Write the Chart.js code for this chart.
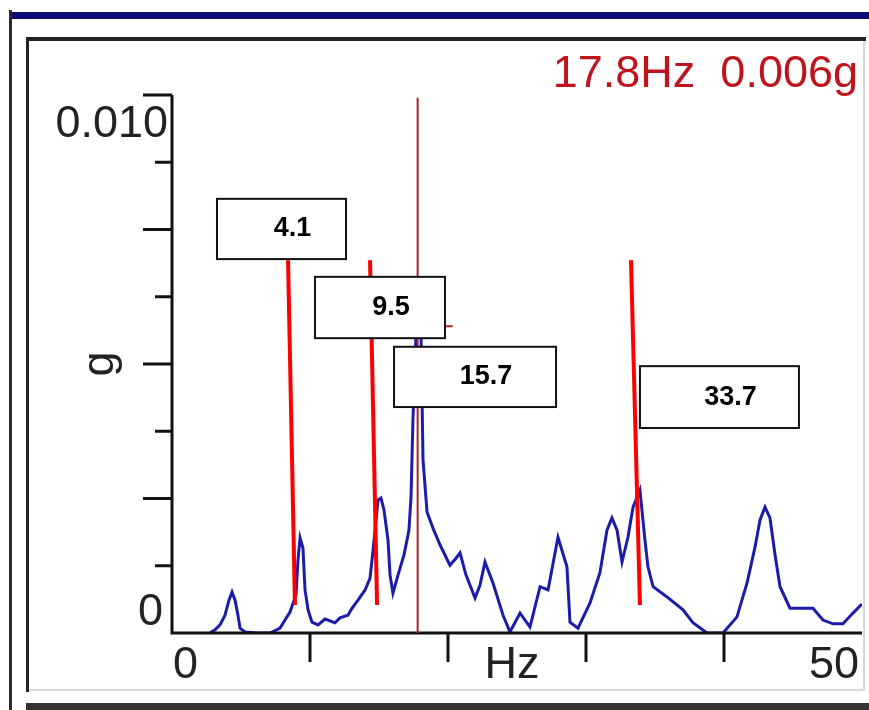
<!DOCTYPE html>
<html>
<head>
<meta charset="utf-8">
<script src="https://cdn.jsdelivr.net/npm/chart.js@4"></script>
<style>
  html, body { margin: 0; padding: 0; background: #fff; }
  #wrap { position: relative; width: 869px; height: 710px; }
</style>
</head>
<body>
<div id="wrap"><canvas id="spectrum"></canvas></div>
<script>
// spectrum data (Hz / g)
const freqHz = [2.75, 3.12, 3.48, 3.84, 4.13, 4.35, 4.57, 4.78, 4.93, 5.29, 6.23, 7.10, 7.83, 8.19, 8.55, 8.99,
  9.13, 9.28, 9.49, 9.64, 9.86, 10.14, 10.58, 11.09, 11.81, 12.17, 12.75, 13.04, 13.48, 13.99, 14.35, 14.57,
  14.93, 15.14, 15.36, 15.65, 15.80, 16.01, 16.38, 16.81, 17.17, 17.32, 17.46, 17.68, 17.90, 18.04, 18.19,
  18.48, 18.91, 19.42, 20.14, 20.58, 20.87, 21.30, 21.96, 22.32, 22.68, 23.26, 23.99, 24.49, 25.22, 25.94,
  26.67, 27.25, 27.97, 28.62, 28.84, 29.42, 30.29, 31.01, 31.52, 31.88, 32.25, 32.61, 33.04, 33.41, 33.91,
  34.27, 34.49, 34.86, 35.87, 37.03, 37.75, 38.77, 39.93, 40.94, 41.67, 42.25, 42.61, 42.97, 43.33, 43.70,
  44.06, 44.78, 46.45, 47.17, 47.90, 48.62, 49.35, 50.00];
const accelG = [0, 0.00006, 0.00015, 0.00033, 0.00061, 0.00076, 0.00061, 0.00033, 0.00009, 0.00002, 0, 0,
  0.00009, 0.00024, 0.00039, 0.00071, 0.00136, 0.00177, 0.00158, 0.00080, 0.00043, 0.00020, 0.00015, 0.00026,
  0.00019, 0.00028, 0.00033, 0.00046, 0.00061, 0.00080, 0.00102, 0.00154, 0.00247, 0.00251, 0.00229, 0.00173,
  0.00108, 0.00074, 0.00108, 0.00145, 0.00191, 0.00253, 0.00396, 0.00554, 0.00578, 0.00563, 0.00322, 0.00225,
  0.00195, 0.00164, 0.00126, 0.00139, 0.00149, 0.00108, 0.00065, 0.00089, 0.00132, 0.00093, 0.00033, 0.00002,
  0.00037, 0.00011, 0.00086, 0.00080, 0.00178, 0.00123, 0.00020, 0.00009, 0.00056, 0.00112, 0.00191, 0.00214,
  0.00191, 0.00132, 0.00178, 0.00234, 0.00266, 0.00173, 0.00123, 0.00086, 0.00067, 0.00043, 0.00019, 0, 0,
  0.00030, 0.00093, 0.00160, 0.00210, 0.00234, 0.00214, 0.00145, 0.00086, 0.00046, 0.00046, 0.00024, 0.00017,
  0.00017, 0.00037, 0.00054];

// axes
const xTickHz = [10, 20, 30, 40];
const xTickText = ['0', 'Hz', '50'];
const yTickG = [0.00125, 0.0025, 0.00375, 0.005, 0.00625, 0.0075, 0.00875, 0.010];
const yTickText = ['0', '0.010'];

// cursor readout
const cursorHz = 17.8;
const cursorG = 0.0057;
const cursorText = '17.8Hz  0.006g';

// hand-drawn peak marks: label, box (Hz from-to, g top-bottom), red line (Hz top, Hz bottom)
const markLabels = ['4.1', '9.5', '15.7', '33.7'];
const markBoxHz = [[3.26, 12.61], [10.36, 19.78], [16.09, 27.83], [33.91, 45.43]];
const markBoxG = [[0.00807, 0.00695], [0.00662, 0.00548], [0.00532, 0.00420], [0.00496, 0.00381]];
const markLineHz = [[8.41, 8.91], [14.35, 14.86], null, [33.26, 33.91]];
const markLineG = [0.00693, 0.00052];

const TXT = '"Liberation Sans", Arial, sans-serif';

// frame around the panel
const framePlugin = {
    id: 'frame',
    beforeDraw(chart) {
        const c = chart.ctx;
        c.save();
        c.fillStyle = '#fff';
        c.fillRect(0, 0, chart.width, chart.height);
        c.fillStyle = '#2a2a2a';
        c.fillRect(9, 10, 3, 700);          // outer left line
        c.fillStyle = '#0b0b78';
        c.fillRect(12, 12, 857, 7);         // navy top bar
        c.fillStyle = '#222';
        c.fillRect(26, 37, 840, 4);         // panel top
        c.fillRect(26, 37, 3, 655);         // panel left
        c.fillStyle = '#d8d8d8';
        c.fillRect(863, 41, 2, 650);        // panel right
        c.fillRect(29, 689, 836, 2);
        c.fillStyle = '#333';
        c.fillRect(26, 703, 843, 7);        // next panel
        c.restore();
    }
};

const axisPlugin = {
    id: 'axes',
    afterDatasetsDraw(chart) {
        const c = chart.ctx;
        const xs = chart.scales.x, ys = chart.scales.y;
        const a = chart.chartArea;
        c.save();
        c.strokeStyle = '#111';
        c.fillStyle = '#111';

        // axis lines
        c.lineWidth = 3;
        c.beginPath();
        c.moveTo(a.left, ys.getPixelForValue(0.010));
        c.lineTo(a.left, a.bottom);
        c.lineTo(a.right, a.bottom);
        c.stroke();

        // ticks
        c.lineWidth = 3;
        yTickG.forEach((v, i) => {
            const y = ys.getPixelForValue(v);
            const len = i % 2 === 1 ? 29 : 17;
            c.beginPath();
            c.moveTo(a.left - len, y);
            c.lineTo(a.left, y);
            c.stroke();
        });
        xTickHz.forEach(v => {
            const x = xs.getPixelForValue(v);
            c.beginPath();
            c.moveTo(x, a.bottom);
            c.lineTo(x, a.bottom + 29);
            c.stroke();
        });

        // tick labels
        c.font = '45px ' + TXT;
        c.fillStyle = '#222';
        c.textBaseline = 'alphabetic';
        c.textAlign = 'right';
        c.fillText(yTickText[0], a.left - 9, ys.getPixelForValue(0) - 8);
        c.fillText(yTickText[1], a.left - 4, ys.getPixelForValue(0.010) + 42);
        c.textAlign = 'left';
        c.fillText(xTickText[0], xs.getPixelForValue(0) + 1, a.bottom + 45);
        c.textAlign = 'center';
        c.fillText(xTickText[1], xs.getPixelForValue(25) - 5, a.bottom + 45);
        c.textAlign = 'right';
        c.fillText(xTickText[2], xs.getPixelForValue(50) - 3, a.bottom + 45);

        // y title
        c.save();
        c.translate(113, ys.getPixelForValue(0.005));
        c.rotate(-Math.PI / 2);
        c.textAlign = 'center';
        c.fillText('g', 0, 0);
        c.restore();

        // cursor
        const cx = xs.getPixelForValue(cursorHz);
        c.strokeStyle = '#b21f2a';
        c.lineWidth = 2;
        c.beginPath();
        c.moveTo(cx, ys.getPixelForValue(0.00995));
        c.lineTo(cx, a.bottom);
        c.stroke();
        c.beginPath();
        c.moveTo(cx - 8, ys.getPixelForValue(cursorG));
        c.lineTo(cx + 35, ys.getPixelForValue(cursorG));
        c.stroke();

        c.fillStyle = '#c0141c';
        c.font = '45px ' + TXT;
        c.textAlign = 'right';
        c.fillText(cursorText, 858, 87);

        // red peak lines
        c.strokeStyle = '#ff0000';
        c.lineWidth = 4;
        markLineHz.forEach(h => {
            if (!h) return;
            c.beginPath();
            c.moveTo(xs.getPixelForValue(h[0]), ys.getPixelForValue(markLineG[0]));
            c.lineTo(xs.getPixelForValue(h[1]), ys.getPixelForValue(markLineG[1]));
            c.stroke();
        });

        // label boxes
        c.font = 'bold 27px ' + TXT;
        c.textAlign = 'center';
        c.textBaseline = 'middle';
        markLabels.forEach((t, i) => {
            const x0 = xs.getPixelForValue(markBoxHz[i][0]);
            const x1 = xs.getPixelForValue(markBoxHz[i][1]);
            const y0 = ys.getPixelForValue(markBoxG[i][0]);
            const y1 = ys.getPixelForValue(markBoxG[i][1]);
            c.fillStyle = '#fff';
            c.fillRect(x0, y0, x1 - x0, y1 - y0);
            c.strokeStyle = '#111';
            c.lineWidth = 2;
            c.strokeRect(x0, y0, x1 - x0, y1 - y0);
            c.fillStyle = '#000';
            c.fillText(t, (x0 + x1) / 2 + 11, (y0 + y1) / 2);
        });
        c.restore();
    }
};

new Chart(document.getElementById('spectrum'), {
    type: 'line',
    data: {
        datasets: [{
            data: freqHz.map((f, i) => ({ x: f, y: accelG[i] })),
            borderColor: '#1c1cab',
            borderWidth: 3,
            pointRadius: 0,
            tension: 0,
            fill: false
        }]
    },
    options: {
        responsive: true,
        maintainAspectRatio: false,
        animation: false,
        layout: { padding: { left: 172, right: 7, top: 95, bottom: 77 } },
        scales: {
            x: { type: 'linear', min: 0, max: 50, display: false },
            y: { min: 0, max: 0.010, display: false }
        },
        plugins: {
            legend: { display: false },
            tooltip: { enabled: false }
        }
    },
    plugins: [framePlugin, axisPlugin]
});
</script>
</body>
</html>
